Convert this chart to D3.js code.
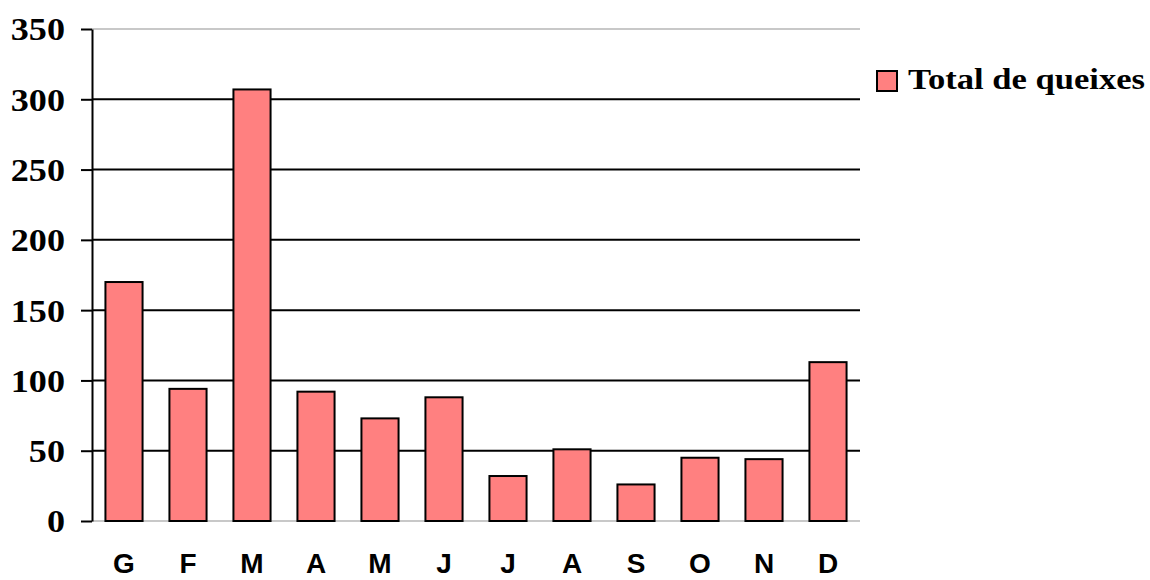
<!DOCTYPE html>
<html>
<head>
<meta charset="utf-8">
<script src="https://cdn.jsdelivr.net/npm/d3@7"></script>
<style>
  body { margin: 0; background: #fff; }
  svg { display: block; }
</style>
</head>
<body>
<div id="chart"></div>
<script>
// chart data
const months = ["G", "F", "M", "A", "M", "J", "J", "A", "S", "O", "N", "D"];
const queixes = [170, 94, 307, 92, 73, 88, 32, 51, 26, 45, 44, 113];
const yTicks = [0, 50, 100, 150, 200, 250, 300, 350];
const seriesName = "Total de queixes";

const W = 1150, H = 580;
const margin = { top: 29, right: 290, bottom: 59, left: 92 };
const width = W - margin.left - margin.right;
const height = H - margin.top - margin.bottom;
const barFill = "#ff8080";
const serif = "Liberation Serif";
const sans = "Liberation Sans";

const svg = d3.select("#chart").append("svg")
    .attr("width", W)
    .attr("height", H);

const g = svg.append("g")
    .attr("transform", `translate(${margin.left}, ${margin.top})`);

// scales
const x = d3.scaleBand()
    .domain(d3.range(months.length))
    .range([0, width])
    .paddingInner(0.42)
    .paddingOuter(0.21);

const y = d3.scaleLinear()
    .domain([0, 350])
    .range([height, 0]);

// gridlines (top and bottom are light gray plot borders)
g.append("g")
    .selectAll("line")
    .data(yTicks)
    .enter()
    .append("line")
    .attr("x1", 0)
    .attr("x2", width)
    .attr("y1", d => y(d))
    .attr("y2", d => y(d))
    .attr("stroke", d => (d === 0 || d === 350) ? "#c8c8c8" : "#000")
    .attr("stroke-width", 2);

// bars
g.append("g")
    .selectAll("rect")
    .data(queixes)
    .enter()
    .append("rect")
    .attr("x", (d, i) => x(i))
    .attr("width", x.bandwidth())
    .attr("y", d => y(d))
    .attr("height", d => y(0) - y(d))
    .attr("fill", barFill)
    .attr("stroke", "#000")
    .attr("stroke-width", 2);

// y axis
const yAxis = g.append("g")
    .call(d3.axisLeft(y).tickValues(yTicks).tickSize(11).tickPadding(16).tickSizeOuter(0));
yAxis.select(".domain").attr("stroke", "#000").attr("stroke-width", 2);
yAxis.selectAll(".tick line").attr("stroke", "#000").attr("stroke-width", 2);
yAxis.selectAll(".tick text")
    .attr("font-family", serif)
    .attr("font-weight", "bold")
    .attr("font-size", 32)
    .attr("fill", "#000")
    .attr("dy", "0.34em")
    .attr("transform", function () {
        const xx = +d3.select(this).attr("x");
        return `translate(${-xx * 0.13}, 0) scale(1.13, 1)`;
    });

// x axis labels
const xAxis = g.append("g")
    .attr("transform", `translate(0, ${height})`)
    .call(d3.axisBottom(x).tickFormat(i => months[i]).tickSize(0).tickPadding(32));
xAxis.select(".domain").remove();
xAxis.selectAll(".tick text")
    .attr("font-family", sans)
    .attr("font-weight", "bold")
    .attr("font-size", 28)
    .attr("fill", "#000");

// legend
const legend = svg.append("g")
    .attr("transform", `translate(877, 71)`);
legend.append("rect")
    .attr("width", 20)
    .attr("height", 20)
    .attr("fill", barFill)
    .attr("stroke", "#000")
    .attr("stroke-width", 2);
legend.append("text")
    .attr("x", 31)
    .attr("y", 18)
    .attr("font-family", serif)
    .attr("font-weight", "bold")
    .attr("font-size", 30)
    .attr("textLength", 237)
    .attr("lengthAdjust", "spacingAndGlyphs")
    .attr("fill", "#000")
    .text(seriesName);
</script>
</body>
</html>
